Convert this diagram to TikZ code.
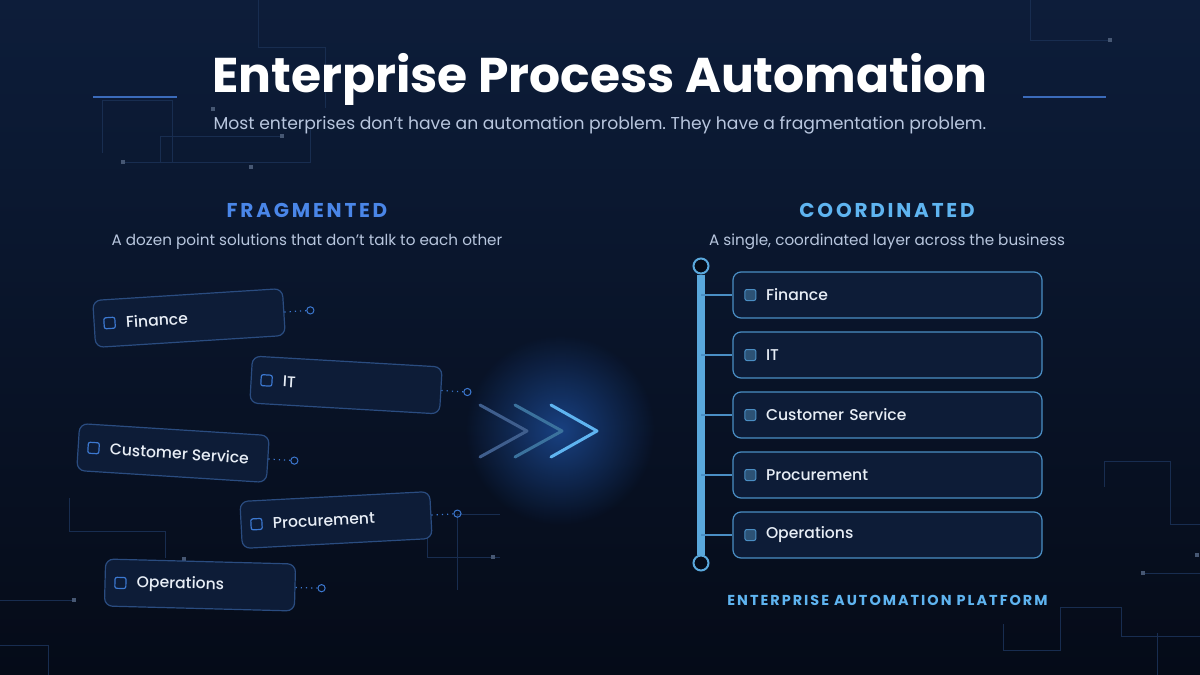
\documentclass[tikz,border=0pt]{standalone}
\usepackage{fontspec}
\setmainfont{Poppins}
\newfontfamily\trackfont[LetterSpace=14]{Poppins}
\newfontfamily\medfont{Poppins Medium}
\frenchspacing
\usetikzlibrary{calc, fadings, positioning}
\definecolor{bgtop}{RGB}{13,29,58}
\definecolor{bgbot}{RGB}{5,11,24}
\definecolor{tracecol}{RGB}{24,45,80}
\definecolor{subgray}{RGB}{184,198,222}
\definecolor{fragblue}{RGB}{74,134,232}
\definecolor{coordblue}{RGB}{95,180,240}
\definecolor{cardfill}{RGB}{13,28,55}
\definecolor{fragedge}{RGB}{42,76,128}
\definecolor{coordedge}{RGB}{74,142,196}
\definecolor{boxblue}{RGB}{60,120,208}
\definecolor{boxfill}{RGB}{44,82,117}
\definecolor{barblue}{RGB}{90,168,220}
\definecolor{glowblue}{RGB}{30,80,160}
\definecolor{cardtext}{RGB}{232,238,246}

\tikzfading[name=glowfade, inner color=transparent!25, outer color=transparent!100]

\begin{document}
\begin{tikzpicture}[x=0.5pt, y=-0.5pt,
    trace/.style={draw=tracecol, line width=0.5pt},
    tracedot/.style={fill=tracecol!80!white, minimum size=2pt, inner sep=0pt},
    rule/.style={draw=fragblue!80!black, line width=0.8pt},
    fragcard/.style={rectangle, rounded corners=4pt, draw=fragedge, fill=cardfill,
                     line width=0.6pt, minimum width=95pt, minimum height=23.5pt},
    fragbox/.style={rectangle, rounded corners=1pt, draw=boxblue, line width=0.6pt,
                    minimum size=5.5pt, inner sep=0pt},
    cardlabel/.style={text=cardtext, font=\medfont\fontsize{7.8}{10}\selectfont, inner sep=0pt},
    pin/.style={circle, draw=boxblue, line width=0.5pt, minimum size=3.6pt, inner sep=0pt},
    dotlink/.style={draw=boxblue, line width=0.6pt, dotted},
    chev/.style={line width=1.5pt, line cap=round, line join=round},
    coordcard/.style={rectangle, rounded corners=4pt, draw=coordedge, fill=cardfill,
                      line width=0.6pt, minimum width=154.5pt, minimum height=23pt,
                      text width=121.5pt, inner xsep=16.5pt, align=left,
                      text=cardtext, font=\medfont\fontsize{7.8}{10}\selectfont},
    coordbox/.style={rectangle, rounded corners=1pt, draw=coordedge, fill=boxfill,
                     line width=0.5pt, minimum size=5.5pt, inner sep=0pt},
    branch/.style={draw=coordedge, line width=1pt},
    barend/.style={circle, draw=barblue, fill=bgbot, line width=1pt,
                   minimum size=7.5pt, inner sep=0pt}]

% background
\shade [top color=bgtop, bottom color=bgbot] (0,0) rectangle (1200,675);
\useasboundingbox (0,0) rectangle (1200,675);

% faint circuit traces
\draw [trace] (258,0) -- (258,47) -- (325,47) -- (325,108);
\draw [trace] (102,153) -- (102,100) -- (172,100) -- (172,162);
\draw [trace] (123,162) -- (310,162) -- (310,130);
\draw [trace] (160,162) -- (160,136) -- (282,136);
\draw [trace] (69,498) -- (69,531) -- (165,531) -- (165,558);
\draw [trace] (0,600) -- (74,600);
\draw [trace] (0,645) -- (48,645) -- (48,675);
\draw [trace] (427,495) -- (427,557) -- (500,557);
\draw [trace] (457,590) -- (457,514) -- (500,514);
\draw [trace] (1104,487) -- (1104,461) -- (1170,461) -- (1170,524) -- (1200,524);
\draw [trace] (1143,573) -- (1200,573);
\draw [trace] (1003,624) -- (1003,650) -- (1060,650) -- (1060,607) -- (1121,607) -- (1121,636) -- (1200,636);
\draw [trace] (1157,633) -- (1157,675);
\draw [trace] (1030,0) -- (1030,40) -- (1110,40);
\foreach \p in {(213,109),(123,162),(282,136),(251,167),(184,559),(74,600),
                (493,557),(1143,573),(1197,555),(1110,40)}
  \node [tracedot] at \p {};

% title block
\node (title) [anchor=base, text=white, font=\bfseries\fontsize{24.4}{28}\selectfont]
      at (600,92) {Enterprise Process Automation};
\node (subtitle) [anchor=base, text=subgray, font=\fontsize{8.6}{11}\selectfont]
      at (600,129) {Most enterprises don’t have an automation problem. They have a fragmentation problem.};
\draw [rule] (93,97) -- (177,97);
\draw [rule] (1023,97) -- (1106,97);

% column heads
\node (fraghead) [anchor=base, text=fragblue, font=\trackfont\bfseries\fontsize{10}{12}\selectfont]
      at (307,217) {FRAGMENTED};
\node (fragsub) [anchor=base, text=subgray, font=\fontsize{7.6}{10}\selectfont]
      at (307,245) {A dozen point solutions that don’t talk to each other};
\node (coordhead) [anchor=base, text=coordblue, font=\trackfont\bfseries\fontsize{10}{12}\selectfont]
      at (887,217) {COORDINATED};
\node (coordsub) [anchor=base, text=subgray, font=\fontsize{7.6}{10}\selectfont]
      at (887,245) {A single, coordinated layer across the business};

% fragmented cards
\node (lfin) [fragcard, rotate=3.6] at (189,318) {};
\node (lfinbox) [fragbox, rotate=3.6] at ($(lfin.west)!8pt!(lfin.east)$) {};
\node (lfintxt) [cardlabel, rotate=3.6, anchor=west] at ($(lfin.west)!16pt!(lfin.east)$) {Finance};
\node (lfinpin) [pin] at ($(lfin.east)!-13pt!(lfin.west)$) {};
\draw [dotlink] (lfin.east) -- (lfinpin);

\node (lit) [fragcard, rotate=-3.3] at (346,385) {};
\node (litbox) [fragbox, rotate=-3.3] at ($(lit.west)!8pt!(lit.east)$) {};
\node (littxt) [cardlabel, rotate=-3.3, anchor=west] at ($(lit.west)!16pt!(lit.east)$) {IT};
\node (litpin) [pin] at ($(lit.east)!-13pt!(lit.west)$) {};
\draw [dotlink] (lit.east) -- (litpin);

\node (lcs) [fragcard, rotate=-3.6] at (173,453) {};
\node (lcsbox) [fragbox, rotate=-3.6] at ($(lcs.west)!8pt!(lcs.east)$) {};
\node (lcstxt) [cardlabel, rotate=-3.6, anchor=west] at ($(lcs.west)!16pt!(lcs.east)$) {Customer Service};
\node (lcspin) [pin] at ($(lcs.east)!-13pt!(lcs.west)$) {};
\draw [dotlink] (lcs.east) -- (lcspin);

\node (lproc) [fragcard, rotate=3] at (336,520) {};
\node (lprocbox) [fragbox, rotate=3] at ($(lproc.west)!8pt!(lproc.east)$) {};
\node (lproctxt) [cardlabel, rotate=3, anchor=west] at ($(lproc.west)!16pt!(lproc.east)$) {Procurement};
\node (lprocpin) [pin] at ($(lproc.east)!-13pt!(lproc.west)$) {};
\draw [dotlink] (lproc.east) -- (lprocpin);

\node (lops) [fragcard, rotate=-1.5] at (200,585) {};
\node (lopsbox) [fragbox, rotate=-1.5] at ($(lops.west)!8pt!(lops.east)$) {};
\node (lopstxt) [cardlabel, rotate=-1.5, anchor=west] at ($(lops.west)!16pt!(lops.east)$) {Operations};
\node (lopspin) [pin] at ($(lops.east)!-13pt!(lops.west)$) {};
\draw [dotlink] (lops.east) -- (lopspin);

% glow and chevrons
\fill [glowblue, path fading=glowfade] (560,430) circle (95);
\draw [chev, draw=fragedge!90!white] (480,405) -- (527,431) -- (480,457);
\draw [chev, draw=coordedge!80!black] (515,405) -- (562,431) -- (515,457);
\draw [chev, draw=coordblue] (551,405) -- (597,431) -- (551,457);

% coordinated platform
\node (bartop) [barend] at (701,266) {};
\node (barbot) [barend] at (701,563) {};
\draw [draw=barblue, line width=4pt] (bartop) -- (barbot);

\node (rfin)  [coordcard] at (887.5,295) {Finance};
\node (rit)   [coordcard] at (887.5,355) {IT};
\node (rcs)   [coordcard] at (887.5,415) {Customer Service};
\node (rproc) [coordcard] at (887.5,475) {Procurement};
\node (rops)  [coordcard] at (887.5,535) {Operations};

\node (rfinbox)  [coordbox] at ($(rfin.west)+(18,0)$)  {};
\node (ritbox)   [coordbox] at ($(rit.west)+(18,0)$)   {};
\node (rcsbox)   [coordbox] at ($(rcs.west)+(18,0)$)   {};
\node (rprocbox) [coordbox] at ($(rproc.west)+(18,0)$) {};
\node (ropsbox)  [coordbox] at ($(rops.west)+(18,0)$)  {};

\draw [branch] (rfin.west)  -- (rfin.west -| bartop);
\draw [branch] (rit.west)   -- (rit.west -| bartop);
\draw [branch] (rcs.west)   -- (rcs.west -| bartop);
\draw [branch] (rproc.west) -- (rproc.west -| bartop);
\draw [branch] (rops.west)  -- (rops.west -| bartop);

\node (platform) [anchor=base, text=coordblue, font=\trackfont\bfseries\fontsize{7.2}{9}\selectfont]
      at (887.5,605) {ENTERPRISE AUTOMATION PLATFORM};
\end{tikzpicture}
\end{document}
